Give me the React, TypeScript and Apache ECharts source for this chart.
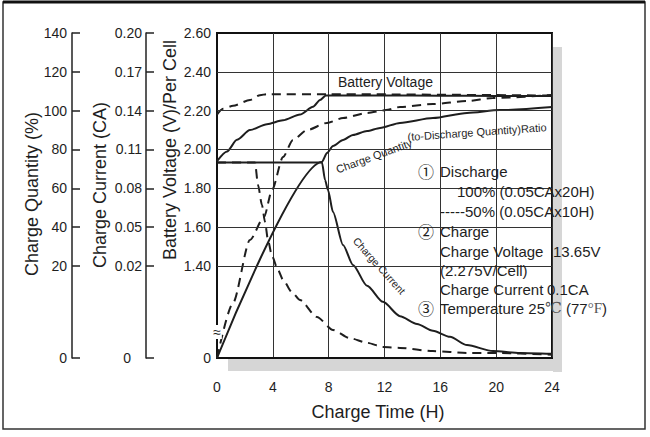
import React, { useEffect, useRef } from "react";
import * as echarts from "echarts";

// ---------- data ----------
const timeTicks = [0, 4, 8, 12, 16, 20, 24];

const voltageTicks = [0, 1.4, 1.6, 1.8, 2.0, 2.2, 2.4, 2.6];
const voltageLabels = ["0", "1.40", "1.60", "1.80", "2.00", "2.20", "2.40", "2.60"];
const quantityTicks = [0, 20, 40, 60, 80, 100, 120, 140];
const quantityLabels = ["0", "20", "40", "60", "80", "100", "120", "140"];
const currentTicks = [0, 0.02, 0.05, 0.08, 0.11, 0.14, 0.17, 0.2];
const currentLabels = ["0", "0.02", "0.05", "0.08", "0.11", "0.14", "0.17", "0.20"];

// Battery voltage (V/cell)
const voltage100Time = [0, 0.72, 1.43, 2.36, 3.58, 4.73, 5.95, 6.88, 7.38, 7.8, 12, 16, 20, 24];
const voltage100 = [1.94, 1.99, 2.05, 2.1, 2.13, 2.15, 2.18, 2.22, 2.255, 2.278, 2.278, 2.277, 2.276, 2.275];
const voltage50Time = [0, 0.43, 1.15, 2.36, 3.08, 3.58, 8, 24];
const voltage50 = [2.18, 2.21, 2.225, 2.255, 2.28, 2.285, 2.285, 2.278];

// Charge quantity (%)
const quantity100Time = [0, 7.52, 7.88, 8.31, 9.03, 9.74, 10.75, 11.68, 13.11, 15.47, 17.91, 20.27, 24];
const quantity100 = [0, 73.6, 78.2, 81.8, 84.9, 87.5, 89.5, 91.1, 93.7, 96.2, 98.8, 100.3, 101.9];
const quantity50Time = [0, 1.15, 2.36, 3.37, 3.94, 4.73, 5.44, 6.45, 7.88, 9.03, 10.75, 12.11, 13.11, 15.47, 17.91, 19.77, 24];
const quantity50 = [0, 12.0, 33.4, 45.2, 59.1, 76.1, 84.9, 90.0, 93.7, 96.2, 98.8, 100.3, 101.9, 103.4, 105.0, 106.5, 108.1];

// Charge current (CA)
const current100Time = [0, 7.52, 7.74, 7.95, 8.31, 9.03, 9.74, 10.75, 11.89, 13.11, 14.33, 15.47, 16.69, 17.91, 19.77, 21.7, 24];
const current100 = [0.1, 0.1, 0.0864, 0.0787, 0.0617, 0.0362, 0.0208, 0.0157, 0.0122, 0.0091, 0.0074, 0.0059, 0.0046, 0.0028, 0.0015, 0.0011, 0.0009];
const current50Time = [0, 2.72, 2.94, 3.22, 3.44, 3.65, 3.94, 4.37, 4.73, 5.37, 5.95, 7.16, 8.31, 9.53, 10.75, 11.89, 13.11, 15.47, 17.91, 19.77, 24];
const current50 = [0.1, 0.1, 0.0826, 0.0671, 0.054, 0.0401, 0.0277, 0.0191, 0.017, 0.0143, 0.0126, 0.0089, 0.0061, 0.0043, 0.0033, 0.0024, 0.0022, 0.0015, 0.0011, 0.0011, 0.0007];

// ---------- broken-axis scale ----------
// all three y axes share one display scale: the first tick above 0 sits BREAK units up,
// and each following tick one unit further.
const BREAK = 2.37;
const slots = voltageTicks.map((_, i) => (i === 0 ? 0 : BREAK + (i - 1)));
const U_MAX = slots[slots.length - 1];

function toDisplay(ticks: number[], v: number): number {
  for (let i = 1; i < ticks.length; i++) {
    if (v <= ticks[i] || i === ticks.length - 1) {
      const f = (v - ticks[i - 1]) / (ticks[i] - ticks[i - 1]);
      return slots[i - 1] + f * (slots[i] - slots[i - 1]);
    }
  }
  return 0;
}
function slotIndex(v: number): number {
  let best = 0;
  slots.forEach((s, i) => {
    if (Math.abs(s - v) < Math.abs(slots[best] - v)) best = i;
  });
  return best;
}
function pairs(ts: number[], vs: number[], ticks: number[]) {
  return ts.map((t, i) => [t, toDisplay(ticks, vs[i])]);
}

const FONT = '"Liberation Sans", Arial, Helvetica, sans-serif';
const CIRCLE_FONT = '"Noto Sans CJK SC", "DejaVu Sans", sans-serif';
const INK = "#1e1e1e";

export default function App() {
  const ref = useRef<HTMLDivElement>(null);
  useEffect(() => {
    if (!ref.current) return;
    const chart = echarts.init(ref.current, null, { renderer: "svg" });

    const lineBase = (name: string, data: number[][], yAxisIndex: number, dashed: boolean) => ({
      name,
      type: "line",
      yAxisIndex,
      data,
      symbol: "none",
      smooth: 0.25,
      smoothMonotone: "x",
      lineStyle: { color: INK, width: 2, type: dashed ? [9, 6] : "solid" },
      z: 3,
    });

    const txt = (text: string, x: number, y: number, size: number, extra: any = {}, align = "left") => ({
      type: "text",
      x,
      y,
      rotation: extra.rotation || 0,
      z: 20,
      style: {
        text,
        x: 0,
        y: 0,
        fill: INK,
        fontSize: size,
        fontFamily: FONT,
        align,
        verticalAlign: "middle",
        ...(extra.style || {}),
      },
    });

    const option: any = {
      animation: false,
      backgroundColor: "#ffffff",
      grid: {
        left: 217,
        top: 33,
        width: 335,
        height: 325,
        show: true,
        borderColor: "#111",
        borderWidth: 2,
        backgroundColor: "transparent",
        containLabel: false,
      },
      xAxis: {
        type: "value",
        min: timeTicks[0],
        max: timeTicks[timeTicks.length - 1],
        interval: timeTicks[1] - timeTicks[0],
        axisLine: { show: true, lineStyle: { color: "#111", width: 2 } },
        axisTick: { show: false },
        axisLabel: { fontSize: 14, color: INK, margin: 22, fontFamily: FONT },
        splitLine: { show: true, lineStyle: { color: "#333", width: 1 } },
      },
      yAxis: [
        {
          type: "value",
          min: 0,
          max: U_MAX,
          position: "left",
          offset: 0,
          axisLine: { show: true, onZero: false, lineStyle: { color: "#111", width: 2 } },
          axisTick: { show: false },
          splitLine: { show: false },
          axisLabel: {
            customValues: slots,
            formatter: (v: number) => voltageLabels[slotIndex(v)],
            fontSize: 14,
            color: INK,
            margin: 6,
            fontFamily: FONT,
          },
        },
        {
          type: "value",
          min: 0,
          max: U_MAX,
          position: "left",
          offset: 71,
          axisLine: { show: true, onZero: false, lineStyle: { color: "#222", width: 1.5 } },
          axisTick: { show: true, inside: true, length: 8, customValues: slots, lineStyle: { color: "#222", width: 1.5 } },
          splitLine: { show: false },
          axisLabel: {
            customValues: slots,
            formatter: (v: number) => {
              const i = slotIndex(v);
              return i === 0 ? "{z|" + currentLabels[i] + "}" : currentLabels[i];
            },
            rich: { z: { fontSize: 14, color: INK, fontFamily: FONT, padding: [0, 11, 0, 0] } },
            fontSize: 14,
            color: INK,
            margin: 4,
            fontFamily: FONT,
          },
        },
        {
          type: "value",
          min: 0,
          max: U_MAX,
          position: "left",
          offset: 145,
          axisLine: { show: true, onZero: false, lineStyle: { color: "#222", width: 1.5 } },
          axisTick: { show: true, inside: true, length: 8, customValues: slots, lineStyle: { color: "#222", width: 1.5 } },
          splitLine: { show: false },
          axisLabel: {
            customValues: slots,
            formatter: (v: number) => quantityLabels[slotIndex(v)],
            fontSize: 14,
            color: INK,
            margin: 5,
            fontFamily: FONT,
          },
        },
      ],
      series: [
        {
          ...lineBase("Battery Voltage 100%", pairs(voltage100Time, voltage100, voltageTicks), 0, false),
          markLine: {
            silent: true,
            symbol: "none",
            label: { show: false },
            lineStyle: { color: "#333", width: 1, type: "solid" },
            data: slots.slice(1, slots.length - 1).map((u) => ({ yAxis: u })),
          },
        },
        lineBase("Battery Voltage 50%", pairs(voltage50Time, voltage50, voltageTicks), 0, true),
        lineBase("Charge Quantity 100%", pairs(quantity100Time, quantity100, quantityTicks), 2, false),
        lineBase("Charge Quantity 50%", pairs(quantity50Time, quantity50, quantityTicks), 2, true),
        lineBase("Charge Current 100%", pairs(current100Time, current100, currentTicks), 1, false),
        lineBase("Charge Current 50%", pairs(current50Time, current50, currentTicks), 1, true),
      ],
      graphic: [
        // outer frame
        { type: "rect", z: 1, shape: { x: 3, y: 2, width: 642, height: 427 }, style: { fill: "none", stroke: "#333", lineWidth: 1.5 } },
        { type: "line", z: 1, shape: { x1: 3, y1: 2, x2: 645, y2: 2 }, style: { stroke: "#111", lineWidth: 3 } },
        // drop shadow of the plot box
        { type: "rect", z: -1, shape: { x: 553, y: 47, width: 9, height: 325 }, style: { fill: "#d6d6d6" } },
        { type: "rect", z: -1, shape: { x: 228, y: 359, width: 334, height: 12 }, style: { fill: "#d6d6d6" } },
        // axis break mark
        txt("≈", 217, 332, 14, { style: { backgroundColor: "#fff", padding: [0, 1, 0, 1] } }, "center"),
        // axis titles
        txt("Charge Quantity (%)", 32, 194, 18, { rotation: Math.PI / 2 }, "center"),
        txt("Charge Current (CA)", 100, 185, 18, { rotation: Math.PI / 2 }, "center"),
        txt("Battery Voltage (V)/Per Cell", 170, 150, 18, { rotation: Math.PI / 2 }, "center"),
        txt("Charge Time (H)", 378, 412, 18, {}, "center"),
        // curve annotations
        txt("Battery Voltage", 338, 82, 14),
        txt("Charge Quantity", 374, 156, 11, { rotation: (20 * Math.PI) / 180 }, "center"),
        txt("(to-Discharge Quantity)Ratio", 477, 132, 11, { rotation: (4 * Math.PI) / 180 }, "center"),
        txt("Charge Current", 379, 266, 10.5, { rotation: (-48 * Math.PI) / 180 }, "center"),
        // legend block
        txt("①", 426, 171, 16, { style: { fontFamily: CIRCLE_FONT } }, "center"),
        txt("Discharge", 440, 171, 15),
        txt("100% (0.05CAx20H)", 457, 191, 15),
        txt("-----50% (0.05CAx10H)", 440, 211, 15),
        txt("②", 426, 231, 16, { style: { fontFamily: CIRCLE_FONT } }, "center"),
        txt("Charge", 440, 231, 15),
        txt("Charge Voltage", 440, 251, 15),
        txt("13.65V", 553, 251, 15),
        txt("(2.275V/Cell)", 440, 270, 15),
        txt("Charge Current", 440, 289, 15),
        txt("0.1CA", 547, 289, 15),
        txt("③", 426, 308, 16, { style: { fontFamily: CIRCLE_FONT } }, "center"),
        txt("Temperature 25{s|℃} (77{s|°F})", 440, 308, 15, {
          style: {
            rich: { s: { fontSize: 15, fontFamily: '"Liberation Serif", "DejaVu Serif", serif', fill: "#555" } },
          },
        }),
      ],
    };

    chart.setOption(option);
    return () => chart.dispose();
  }, []);

  return (
    <div
      ref={ref}
      style={{ position: "fixed", left: 0, top: 0, width: 650, height: 437, background: "#fff" }}
    />
  );
}
